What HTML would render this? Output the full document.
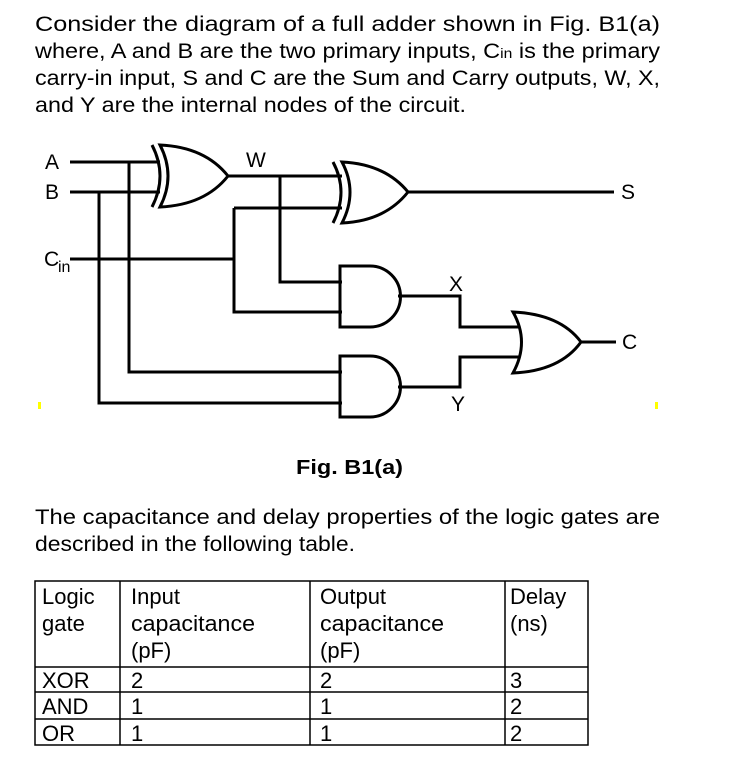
<!DOCTYPE html>
<html><head><meta charset="utf-8"><style>html,body{margin:0;padding:0;background:#fff;}svg{display:block}</style></head>
<body>
<svg width="756" height="773" viewBox="0 0 756 773" xmlns="http://www.w3.org/2000/svg" font-family="'Liberation Sans', sans-serif" fill="#000">
<g font-size="21">
<text x="35" y="31" textLength="625" lengthAdjust="spacingAndGlyphs">Consider the diagram of a full adder shown in Fig. B1(a)</text>
<text x="35" y="58" textLength="625" lengthAdjust="spacingAndGlyphs">where, A and B are the two primary inputs, C<tspan font-size="14">in</tspan> is the primary</text>
<text x="35" y="85" textLength="625" lengthAdjust="spacingAndGlyphs">carry-in input, S and C are the Sum and Carry outputs, W, X,</text>
<text x="35" y="112" textLength="431" lengthAdjust="spacingAndGlyphs">and Y are the internal nodes of the circuit.</text>
<text x="35" y="524" textLength="625" lengthAdjust="spacingAndGlyphs">The capacitance and delay properties of the logic gates are</text>
<text x="35" y="551" textLength="320" lengthAdjust="spacingAndGlyphs">described in the following table.</text>
<text x="296" y="474" font-weight="bold" font-size="20" textLength="107" lengthAdjust="spacingAndGlyphs">Fig. B1(a)</text>
</g>
<g font-size="21">
<text x="45" y="169">A</text>
<text x="45" y="199">B</text>
<text x="44" y="266">C</text><text x="58" y="272" font-size="16">in</text>
<text x="246" y="167">W</text>
<text x="621" y="199">S</text>
<text x="449" y="291">X</text>
<text x="451" y="411">Y</text>
<text x="622" y="349">C</text>
</g>
<rect x="38" y="402" width="3" height="7" fill="#ff0"/>
<rect x="655" y="402" width="3" height="7" fill="#ff0"/>
<g stroke="#000" stroke-width="3" fill="none">
<path d="M70 162H160M70 192H160M129 162V372H342M99 192V403H342M70 259H234M234 208V312H342M234 208H342M228 176H342M280 176V282H342M408 192H614"/>
<path d="M398 296H460V327H520M398 387H460V357H520M581 342H616"/>
<path d="M152 145Q168 176 152 207"/>
<path d="M160 145Q176 176 160 207Q205 205 228 176Q205 147 160 145Z"/>
<path d="M333 162Q349 192 333 223"/>
<path d="M342 162Q358 192 342 223Q385 221 408 192Q385 164 342 162Z"/>
<path d="M340 266H370A30.5 30.5 0 0 1 370 327H340Z"/>
<path d="M340 356H370A30.5 30.5 0 0 1 370 417H340Z"/>
<path d="M513 312Q530 342 513 373Q560 371 581 342Q560 314 513 312Z"/>
</g>
<g stroke="#000" stroke-width="1.5" fill="none">
<rect x="35" y="581" width="553" height="164"/>
<path d="M35 667H588M35 692H588M35 719H588M120 581V745M310 581V745M505 581V745"/>
</g>
<g font-size="22">
<text x="42" y="604">Logic</text><text x="42" y="631">gate</text>
<text x="131" y="604">Input</text><text x="131" y="631" textLength="124" lengthAdjust="spacingAndGlyphs">capacitance</text><text x="131" y="658">(pF)</text>
<text x="320" y="604">Output</text><text x="320" y="631" textLength="124" lengthAdjust="spacingAndGlyphs">capacitance</text><text x="320" y="658">(pF)</text>
<text x="510" y="604">Delay</text><text x="510" y="631">(ns)</text>
<text x="42" y="688">XOR</text><text x="131" y="688">2</text><text x="320" y="688">2</text><text x="510" y="688">3</text>
<text x="42" y="714">AND</text><text x="131" y="714">1</text><text x="320" y="714">1</text><text x="510" y="714">2</text>
<text x="42" y="741">OR</text><text x="131" y="741">1</text><text x="320" y="741">1</text><text x="510" y="741">2</text>
</g>
</svg>
</body></html>
